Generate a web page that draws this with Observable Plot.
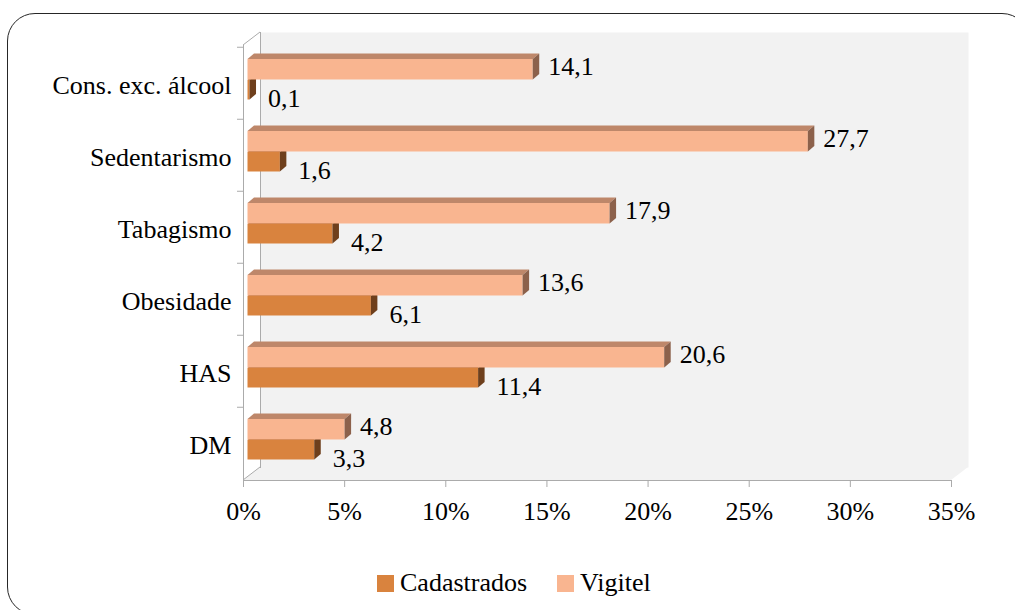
<!DOCTYPE html>
<html><head><meta charset="utf-8">
<script src="https://cdn.jsdelivr.net/npm/d3@7"></script>
<script src="https://cdn.jsdelivr.net/npm/@observablehq/plot@0.6"></script>
<style>
html,body{margin:0;padding:0;background:#fff;overflow:hidden;}
#wrap{position:relative;width:1015px;height:610px;overflow:hidden;font-family:"Liberation Serif","Times New Roman",serif;}
#border{position:absolute;left:7px;top:13px;width:1023px;height:602px;border:1.6px solid #262626;border-radius:28px;box-sizing:border-box;pointer-events:none;}
#chart{position:absolute;left:0;top:0;}
#legend{position:absolute;top:570px;left:377px;display:flex;align-items:center;font-size:26px;color:#000;line-height:26px;}
#legend .sw{width:17px;height:17px;display:inline-block;margin-right:6px;}
#legend .it{display:flex;align-items:center;margin-right:30px;}
</style></head>
<body>
<div id="wrap">
  <div id="chart"></div>
  <div id="legend"></div>
  <div id="border"></div>
</div>
<script>
const categories = ["Cons. exc. álcool","Sedentarismo","Tabagismo","Obesidade","HAS","DM"];
const cadastrados = [0.1, 1.6, 4.2, 6.1, 11.4, 3.3];
const vigitel = [14.1, 27.7, 17.9, 13.6, 20.6, 4.8];
const xTicks = [0, 5, 10, 15, 20, 25, 30, 35];
const seriesNames = ["Cadastrados", "Vigitel"];
const colors = {
  Cadastrados: {front:"#D9833E", top:"#B8692F", side:"#6E3F1C"},
  Vigitel: {front:"#F9B590", top:"#BE876A", side:"#8C614B"}
};

const cadRows = categories.map((c,i)=>({category:c, value:cadastrados[i], series:"Cadastrados"}));
const vigRows = categories.map((c,i)=>({category:c, value:vigitel[i], series:"Vigitel"}));
const fmt = v => v.toFixed(1).replace(".", ",");

const BARDX = 4.5;
const inset = {Vigitel:{top:12, bottom:39.5}, Cadastrados:{top:33, bottom:19.5}};
const axisGray = "#ababab";

const plot = Plot.plot({
  width: 1015, height: 610,
  marginLeft: 243, marginRight: 64, marginTop: 45, marginBottom: 130,
  x: {domain:[0,35], label:null},
  y: {domain:categories, padding:0, label:null},
  style: {fontFamily:"'Liberation Serif', 'Times New Roman', serif", fontSize:"26px", color:"#000", background:"transparent", overflow:"visible"},
  marks: [
    Plot.frame({fill:"#f2f2f2", stroke:null, dx:17, dy:-13}),
    Plot.frame({anchor:"left", stroke:axisGray, dx:17, dy:-13}),
    Plot.frame({anchor:"left", stroke:axisGray}),
    Plot.frame({anchor:"bottom", stroke:axisGray}),
    Plot.axisX({ticks:xTicks, tickFormat:d=>d+"%", tickSize:7, tickPadding:14, stroke:axisGray, fill:"#000"}),
    Plot.axisY({tickSize:0, tickPadding:12, dy:2, fill:"#000"}),
    Plot.axisY({tickSize:6, fill:"none", stroke:axisGray, dy:-435/12}),
    Plot.barX(cadRows, {x:"value", y:"category", fill:colors.Cadastrados.front, insetTop:inset.Cadastrados.top, insetBottom:inset.Cadastrados.bottom, dx:BARDX}),
    Plot.barX(vigRows, {x:"value", y:"category", fill:colors.Vigitel.front, insetTop:inset.Vigitel.top, insetBottom:inset.Vigitel.bottom, dx:BARDX}),
    Plot.text(vigRows, {x:"value", y:"category", text:d=>fmt(d.value), textAnchor:"start", dx:BARDX+15, dy:-17, fill:"#000"}),
    Plot.text(cadRows, {x:"value", y:"category", text:d=>fmt(d.value), textAnchor:"start", dx:BARDX+18, dy:15, fill:"#000"})
  ]
});
document.getElementById("chart").appendChild(plot);

// 3D decorations derived from Plot's scales
const xs = plot.scale("x"), ys = plot.scale("y");
const X = v => xs.apply(v);
const bw = ys.bandwidth;
const [yTop, yBot] = ys.range;
const WDX = 17, WDY = 13;
const svg = d3.select(plot);
const ns = "http://www.w3.org/2000/svg";

// floor + left wall edges, inserted right after the back wall
const frames = plot.querySelectorAll('[aria-label="frame"]');
const floorG = document.createElementNS(ns, "g");
frames[0].after(floorG);
const fg = d3.select(floorG);
const x0 = X(xs.domain[0]), x1 = X(xs.domain[1]);
fg.append("polygon")
  .attr("points", [[x0,yBot],[x1,yBot],[x1+WDX,yBot-WDY],[x0+WDX,yBot-WDY]].map(p=>p.join(",")).join(" "))
  .attr("fill", "#f2f2f2");
fg.append("line").attr("x1",x0).attr("y1",yBot).attr("x2",x0+WDX).attr("y2",yBot-WDY).attr("stroke",axisGray);
fg.append("line").attr("x1",x0).attr("y1",yTop).attr("x2",x0+WDX).attr("y2",yTop-WDY).attr("stroke",axisGray);

// bar top and side faces
const bars = plot.querySelectorAll('[aria-label="bar"]');
const DDX = 6.5, DDY = 5.5;
[[cadRows, "Cadastrados"], [vigRows, "Vigitel"]].forEach(([rows, s], k) => {
  const g = document.createElementNS(ns, "g");
  bars[k].after(g);
  const sel = d3.select(g);
  rows.forEach(r => {
    const a = X(0) + BARDX, b = X(r.value) + BARDX;
    const t = ys.apply(r.category) + inset[s].top;
    const btm = ys.apply(r.category) + bw - inset[s].bottom;
    sel.append("polygon")
      .attr("points", [[a,t],[a+DDX,t-DDY],[b+DDX,t-DDY],[b,t]].map(p=>p.join(",")).join(" "))
      .attr("fill", colors[s].top);
    sel.append("polygon")
      .attr("points", [[b,t],[b+DDX,t-DDY],[b+DDX,btm-DDY],[b,btm]].map(p=>p.join(",")).join(" "))
      .attr("fill", colors[s].side);
  });
});

// legend
const leg = d3.select("#legend");
seriesNames.forEach(s => {
  const it = leg.append("div").attr("class","it");
  it.append("span").attr("class","sw").style("background", colors[s].front);
  it.append("span").text(s);
});
</script>
</body></html>
